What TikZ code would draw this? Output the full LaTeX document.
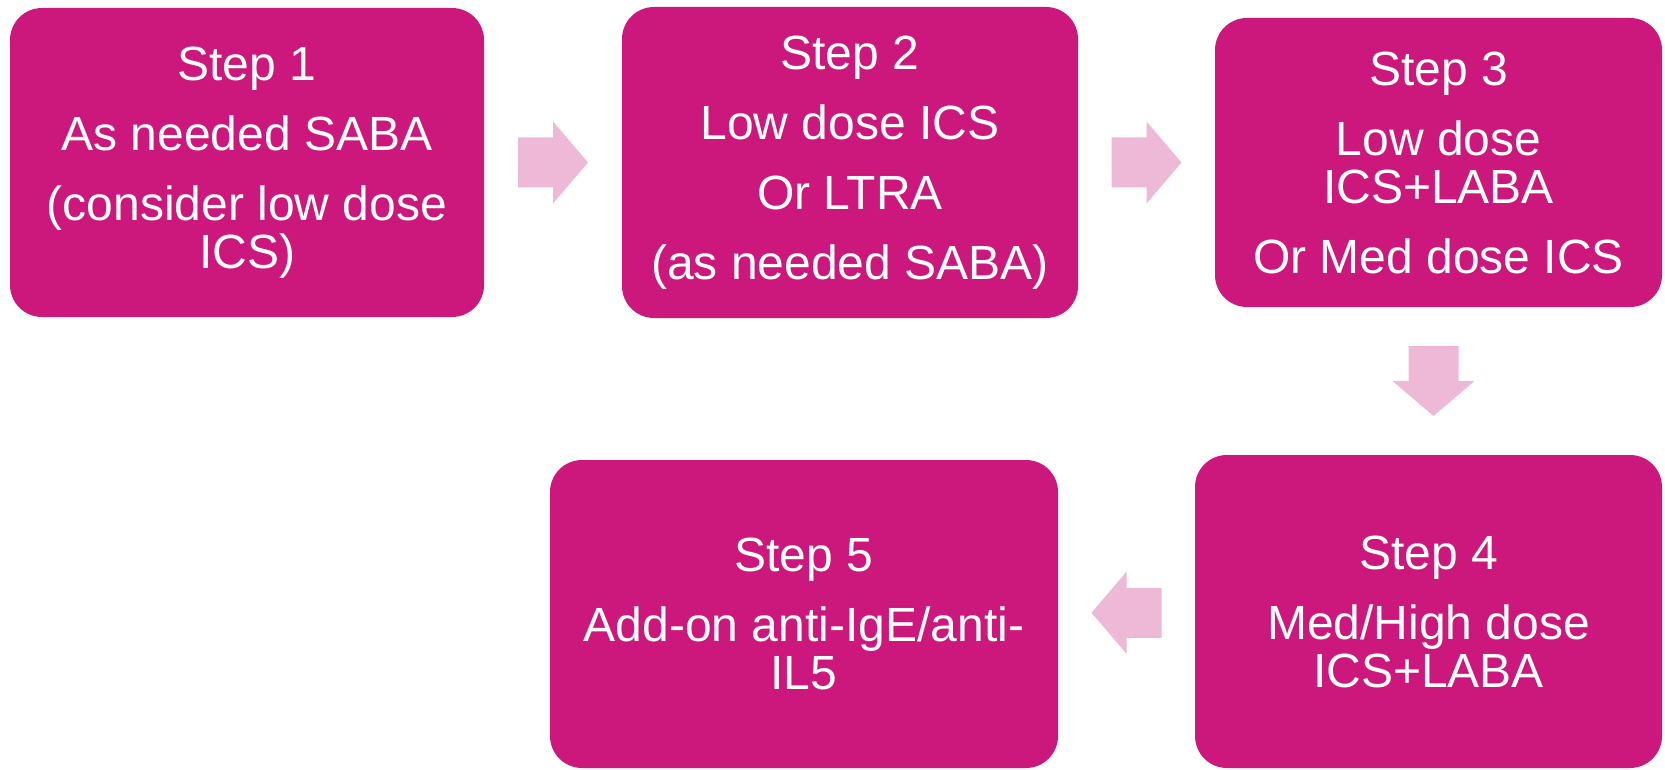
\documentclass[tikz,border=0pt]{standalone}
\usepackage{fontspec}
\setmainfont{Liberation Sans}
\usetikzlibrary{calc}
\definecolor{boxmag}{RGB}{204,24,124}
\definecolor{arrowpink}{RGB}{238,185,214}
\begin{document}
\begin{tikzpicture}[x=1pt,y=-1pt,
  stepbox/.style={fill=boxmag, rounded corners=32pt, text=white, align=center,
    inner sep=0pt, font=\fontsize{48}{48}\selectfont},
  blockarrow/.pic={\fill[arrowpink] (-35,-25) -- (0,-25) -- (0,-41) -- (35,0) -- (0,41) -- (0,25) -- (-35,25) -- cycle;}
]
\useasboundingbox (0,0) rectangle (1665,770);
\node[stepbox, minimum width=474pt, minimum height=309pt] (s1) at (247,162.5)
  {Step 1\\[22pt]As needed SABA\\[22pt](consider low dose\\ICS)};
\node[stepbox, minimum width=456pt, minimum height=311pt] (s2) at (850,162.5)
  {Step 2\\[22pt]Low dose ICS\\[22pt]Or LTRA\\[22pt](as needed SABA)};
\node[stepbox, minimum width=447pt, minimum height=289pt] (s3) at (1438.5,162.5)
  {Step 3\\[22pt]Low dose\\ICS+LABA\\[22pt]Or Med dose ICS};
\node[stepbox, minimum width=467pt, minimum height=313pt] (s4) at (1428.5,611.5)
  {Step 4\\[22pt]Med/High dose\\ICS+LABA};
\node[stepbox, minimum width=508pt, minimum height=308pt] (s5) at (804,614)
  {Step 5\\[22pt]Add-on anti-IgE/anti-\\IL5};
\pic at ($(s1.east)!0.5!(s2.west)$) {blockarrow};
\pic at ($(s2.east)!0.5!(s3.west)$) {blockarrow};
\pic[rotate=-90] at ($(s3.south)!0.5!(s4.north)$) {blockarrow};
\pic[rotate=180] at ($(s4.west)!0.5!(s5.east)$) {blockarrow};
\end{tikzpicture}
\end{document}
